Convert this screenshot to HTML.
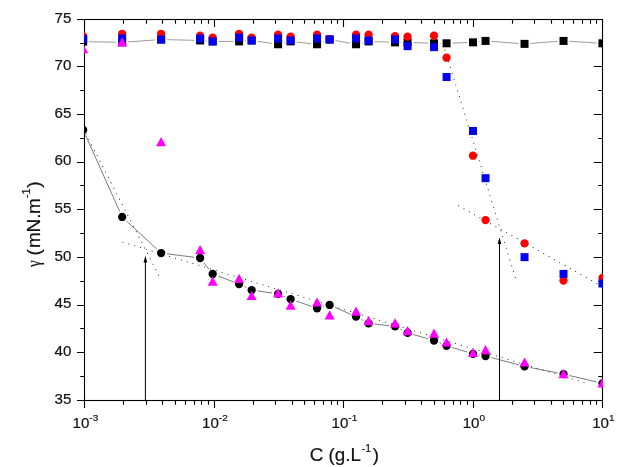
<!DOCTYPE html>
<html><head><meta charset="utf-8"><title>Surface tension plot</title>
<style>html,body{margin:0;padding:0;background:#fff}svg{display:block}</style>
</head><body>
<svg width="618" height="467" viewBox="0 0 618 467">
<rect width="618" height="467" fill="#fff"/>
<defs><clipPath id="pc"><rect x="84.0" y="19.0" width="519.0" height="382.0"/></clipPath></defs>
<rect x="84.5" y="19.5" width="518.0" height="381.0" fill="none" stroke="#000" stroke-width="1.1"/>
<path d="M84.5 400.50h-7.5M602.5 400.50h-8.8M84.5 352.50h-7.5M602.5 352.50h-8.8M84.5 305.50h-7.5M602.5 305.50h-8.8M84.5 257.50h-7.5M602.5 257.50h-8.8M84.5 209.50h-7.5M602.5 209.50h-8.8M84.5 162.50h-7.5M602.5 162.50h-8.8M84.5 114.50h-7.5M602.5 114.50h-8.8M84.5 66.50h-7.5M602.5 66.50h-8.8M84.5 19.50h-7.5M602.5 19.50h-8.8M84.5 376.50h-4.3M602.5 376.50h-4.3M84.5 328.50h-4.3M602.5 328.50h-4.3M84.5 281.50h-4.3M602.5 281.50h-4.3M84.5 233.50h-4.3M602.5 233.50h-4.3M84.5 185.50h-4.3M602.5 185.50h-4.3M84.5 138.50h-4.3M602.5 138.50h-4.3M84.5 90.50h-4.3M602.5 90.50h-4.3M84.5 43.50h-4.3M602.5 43.50h-4.3M84.50 400.5v7.5M84.50 19.5v7.5M123.50 400.5v4.3M123.50 19.5v4.3M146.50 400.5v4.3M146.50 19.5v4.3M162.50 400.5v4.3M162.50 19.5v4.3M175.50 400.5v4.3M175.50 19.5v4.3M185.50 400.5v4.3M185.50 19.5v4.3M194.50 400.5v4.3M194.50 19.5v4.3M201.50 400.5v4.3M201.50 19.5v4.3M208.50 400.5v4.3M208.50 19.5v4.3M214.50 400.5v7.5M214.50 19.5v7.5M253.50 400.5v4.3M253.50 19.5v4.3M275.50 400.5v4.3M275.50 19.5v4.3M292.50 400.5v4.3M292.50 19.5v4.3M304.50 400.5v4.3M304.50 19.5v4.3M314.50 400.5v4.3M314.50 19.5v4.3M323.50 400.5v4.3M323.50 19.5v4.3M331.50 400.5v4.3M331.50 19.5v4.3M337.50 400.5v4.3M337.50 19.5v4.3M343.50 400.5v7.5M343.50 19.5v7.5M382.50 400.5v4.3M382.50 19.5v4.3M405.50 400.5v4.3M405.50 19.5v4.3M421.50 400.5v4.3M421.50 19.5v4.3M434.50 400.5v4.3M434.50 19.5v4.3M444.50 400.5v4.3M444.50 19.5v4.3M453.50 400.5v4.3M453.50 19.5v4.3M460.50 400.5v4.3M460.50 19.5v4.3M467.50 400.5v4.3M467.50 19.5v4.3M473.50 400.5v7.5M473.50 19.5v7.5M512.50 400.5v4.3M512.50 19.5v4.3M534.50 400.5v4.3M534.50 19.5v4.3M551.50 400.5v4.3M551.50 19.5v4.3M563.50 400.5v4.3M563.50 19.5v4.3M573.50 400.5v4.3M573.50 19.5v4.3M582.50 400.5v4.3M582.50 19.5v4.3M590.50 400.5v4.3M590.50 19.5v4.3M596.50 400.5v4.3M596.50 19.5v4.3M602.50 400.5v7.5M602.50 19.5v7.5" fill="none" stroke="#000" stroke-width="1.1"/>
<g clip-path="url(#pc)">
<line x1="86" y1="134" x2="159" y2="276" stroke="#222" stroke-width="1.05" stroke-linecap="round" stroke-dasharray="0.1 6" fill="none"/>
<line x1="122.9" y1="242.2" x2="584.4" y2="382.7" stroke="#222" stroke-width="1.05" stroke-linecap="round" stroke-dasharray="0.1 6" fill="none"/>
<line x1="445" y1="50" x2="515.5" y2="278" stroke="#222" stroke-width="1.05" stroke-linecap="round" stroke-dasharray="0.1 6" fill="none"/>
<line x1="458.6" y1="205.8" x2="600" y2="285.2" stroke="#222" stroke-width="1.05" stroke-linecap="round" stroke-dasharray="0.1 6" fill="none"/>
<path d="M89.17 41.72L116.15 42.24M128.13 41.92L155.15 39.94M167.13 39.65L194.12 40.31M205.89 40.93h1M218.67 41.41L233.10 41.41M244.87 40.93h1M257.59 41.31L272.14 43.41M283.86 42.84h1M296.60 42.05L311.10 43.62M322.84 41.88h1M335.52 40.57L350.14 43.20M361.82 42.84h1M374.60 41.62L389.04 42.14M400.81 42.36h1M413.58 42.58L428.02 43.10M439.79 43.31h1M452.56 43.10L467.00 42.58M478.77 41.65h1M491.53 41.38L518.55 43.43M530.52 43.43L557.53 41.38M569.51 41.30L596.51 42.95" fill="none" stroke="#666" stroke-width="0.65"/>
<rect x="79.17" y="37.60" width="8.0" height="8.0" fill="#000"/>
<rect x="118.15" y="38.36" width="8.0" height="8.0" fill="#000"/>
<rect x="157.13" y="35.50" width="8.0" height="8.0" fill="#000"/>
<rect x="196.12" y="36.46" width="8.0" height="8.0" fill="#000"/>
<rect x="208.67" y="37.41" width="8.0" height="8.0" fill="#000"/>
<rect x="235.10" y="37.41" width="8.0" height="8.0" fill="#000"/>
<rect x="247.65" y="36.46" width="8.0" height="8.0" fill="#000"/>
<rect x="274.08" y="40.26" width="8.0" height="8.0" fill="#000"/>
<rect x="286.63" y="37.41" width="8.0" height="8.0" fill="#000"/>
<rect x="313.07" y="40.26" width="8.0" height="8.0" fill="#000"/>
<rect x="325.62" y="35.50" width="8.0" height="8.0" fill="#000"/>
<rect x="352.05" y="40.26" width="8.0" height="8.0" fill="#000"/>
<rect x="364.60" y="37.41" width="8.0" height="8.0" fill="#000"/>
<rect x="391.03" y="38.36" width="8.0" height="8.0" fill="#000"/>
<rect x="403.58" y="38.36" width="8.0" height="8.0" fill="#000"/>
<rect x="430.02" y="39.31" width="8.0" height="8.0" fill="#000"/>
<rect x="442.57" y="39.31" width="8.0" height="8.0" fill="#000"/>
<rect x="469.00" y="38.36" width="8.0" height="8.0" fill="#000"/>
<rect x="481.55" y="36.93" width="8.0" height="8.0" fill="#000"/>
<rect x="520.53" y="39.88" width="8.0" height="8.0" fill="#000"/>
<rect x="559.52" y="36.93" width="8.0" height="8.0" fill="#000"/>
<rect x="598.50" y="39.31" width="8.0" height="8.0" fill="#000"/>
<circle cx="83.17" cy="36.17" r="4.15" fill="#f00"/>
<circle cx="122.15" cy="33.79" r="4.15" fill="#f00"/>
<circle cx="161.13" cy="33.79" r="4.15" fill="#f00"/>
<circle cx="200.12" cy="35.69" r="4.15" fill="#f00"/>
<circle cx="212.67" cy="37.60" r="4.15" fill="#f00"/>
<circle cx="239.10" cy="33.79" r="4.15" fill="#f00"/>
<circle cx="251.65" cy="37.60" r="4.15" fill="#f00"/>
<circle cx="278.08" cy="34.74" r="4.15" fill="#f00"/>
<circle cx="290.63" cy="36.64" r="4.15" fill="#f00"/>
<circle cx="317.07" cy="34.74" r="4.15" fill="#f00"/>
<circle cx="329.62" cy="39.22" r="4.15" fill="#f00"/>
<circle cx="356.05" cy="34.74" r="4.15" fill="#f00"/>
<circle cx="368.60" cy="34.74" r="4.15" fill="#f00"/>
<circle cx="395.03" cy="36.17" r="4.15" fill="#f00"/>
<circle cx="407.58" cy="36.64" r="4.15" fill="#f00"/>
<circle cx="434.02" cy="35.69" r="4.15" fill="#f00"/>
<circle cx="446.57" cy="57.70" r="4.15" fill="#f00"/>
<circle cx="473.00" cy="155.71" r="4.15" fill="#f00"/>
<circle cx="485.55" cy="220.19" r="4.15" fill="#f00"/>
<circle cx="524.53" cy="243.34" r="4.15" fill="#f00"/>
<circle cx="563.52" cy="280.58" r="4.15" fill="#f00"/>
<circle cx="602.50" cy="278.01" r="4.15" fill="#f00"/>
<rect x="79.17" y="34.93" width="8.0" height="8.0" fill="#0303ee"/>
<rect x="118.15" y="34.55" width="8.0" height="8.0" fill="#0303ee"/>
<rect x="157.13" y="35.50" width="8.0" height="8.0" fill="#0303ee"/>
<rect x="196.12" y="34.55" width="8.0" height="8.0" fill="#0303ee"/>
<rect x="208.67" y="37.41" width="8.0" height="8.0" fill="#0303ee"/>
<rect x="235.10" y="33.60" width="8.0" height="8.0" fill="#0303ee"/>
<rect x="247.65" y="36.46" width="8.0" height="8.0" fill="#0303ee"/>
<rect x="274.08" y="34.55" width="8.0" height="8.0" fill="#0303ee"/>
<rect x="286.63" y="36.46" width="8.0" height="8.0" fill="#0303ee"/>
<rect x="313.07" y="34.55" width="8.0" height="8.0" fill="#0303ee"/>
<rect x="325.62" y="35.50" width="8.0" height="8.0" fill="#0303ee"/>
<rect x="352.05" y="34.55" width="8.0" height="8.0" fill="#0303ee"/>
<rect x="364.60" y="36.46" width="8.0" height="8.0" fill="#0303ee"/>
<rect x="391.03" y="35.50" width="8.0" height="8.0" fill="#0303ee"/>
<rect x="403.58" y="42.17" width="8.0" height="8.0" fill="#0303ee"/>
<rect x="430.02" y="43.12" width="8.0" height="8.0" fill="#0303ee"/>
<rect x="442.57" y="73.03" width="8.0" height="8.0" fill="#0303ee"/>
<rect x="469.00" y="126.94" width="8.0" height="8.0" fill="#0303ee"/>
<rect x="481.55" y="174.19" width="8.0" height="8.0" fill="#0303ee"/>
<rect x="520.53" y="253.15" width="8.0" height="8.0" fill="#0303ee"/>
<rect x="559.52" y="269.91" width="8.0" height="8.0" fill="#0303ee"/>
<rect x="598.50" y="279.53" width="8.0" height="8.0" fill="#0303ee"/>
<path d="M85.62 135.37L119.70 211.48M126.55 221.03L156.73 248.98M167.09 253.81L194.16 257.25M203.82 262.73L208.96 269.29M218.28 276.13L233.49 281.89M244.50 286.63L246.25 287.48M257.59 290.94L272.14 292.99M283.61 296.17L285.11 296.81M296.30 301.12L311.40 306.34M322.84 306.63h1M335.10 307.40L350.56 314.25M361.35 319.50L363.30 320.53M374.56 324.03L389.07 325.71M400.37 329.15L402.25 330.12M413.35 334.53L428.25 338.83M439.55 342.80L441.03 343.42M452.30 347.49L467.26 352.07M478.77 354.92h1M491.35 357.56L518.74 364.86M530.42 367.57L557.63 372.95M569.35 375.50L596.66 381.97" fill="none" stroke="#333" stroke-width="0.65"/>
<circle cx="83.17" cy="129.89" r="4.15" fill="#000"/>
<circle cx="122.15" cy="216.95" r="4.15" fill="#000"/>
<circle cx="161.13" cy="253.05" r="4.15" fill="#000"/>
<circle cx="200.12" cy="258.01" r="4.15" fill="#000"/>
<circle cx="212.67" cy="274.01" r="4.15" fill="#000"/>
<circle cx="239.10" cy="284.01" r="4.15" fill="#000"/>
<circle cx="251.65" cy="290.11" r="4.15" fill="#000"/>
<circle cx="278.08" cy="293.82" r="4.15" fill="#000"/>
<circle cx="290.63" cy="299.15" r="4.15" fill="#000"/>
<circle cx="317.07" cy="308.30" r="4.15" fill="#000"/>
<circle cx="329.62" cy="304.96" r="4.15" fill="#000"/>
<circle cx="356.05" cy="316.68" r="4.15" fill="#000"/>
<circle cx="368.60" cy="323.35" r="4.15" fill="#000"/>
<circle cx="395.03" cy="326.40" r="4.15" fill="#000"/>
<circle cx="407.58" cy="332.87" r="4.15" fill="#000"/>
<circle cx="434.02" cy="340.49" r="4.15" fill="#000"/>
<circle cx="446.57" cy="345.73" r="4.15" fill="#000"/>
<circle cx="473.00" cy="353.83" r="4.15" fill="#000"/>
<circle cx="485.55" cy="356.02" r="4.15" fill="#000"/>
<circle cx="524.53" cy="366.40" r="4.15" fill="#000"/>
<circle cx="563.52" cy="374.12" r="4.15" fill="#000"/>
<circle cx="602.50" cy="383.36" r="4.15" fill="#000"/>
<polygon points="83.17,44.03 88.17,53.23 78.17,53.23" fill="#f0f"/>
<polygon points="122.15,37.36 127.15,46.56 117.15,46.56" fill="#f0f"/>
<polygon points="161.13,137.09 166.13,146.29 156.13,146.29" fill="#f0f"/>
<polygon points="200.12,245.01 205.12,254.21 195.12,254.21" fill="#f0f"/>
<polygon points="212.67,276.44 217.67,285.64 207.67,285.64" fill="#f0f"/>
<polygon points="239.10,273.87 244.10,283.07 234.10,283.07" fill="#f0f"/>
<polygon points="251.65,290.92 256.65,300.12 246.65,300.12" fill="#f0f"/>
<polygon points="278.08,288.34 283.08,297.54 273.08,297.54" fill="#f0f"/>
<polygon points="290.63,300.54 295.63,309.74 285.63,309.74" fill="#f0f"/>
<polygon points="317.07,297.39 322.07,306.59 312.07,306.59" fill="#f0f"/>
<polygon points="329.62,310.35 334.62,319.55 324.62,319.55" fill="#f0f"/>
<polygon points="356.05,306.44 361.05,315.64 351.05,315.64" fill="#f0f"/>
<polygon points="368.60,315.97 373.60,325.17 363.60,325.17" fill="#f0f"/>
<polygon points="395.03,318.35 400.03,327.55 390.03,327.55" fill="#f0f"/>
<polygon points="407.58,325.97 412.58,335.17 402.58,335.17" fill="#f0f"/>
<polygon points="434.02,328.44 439.02,337.64 429.02,337.64" fill="#f0f"/>
<polygon points="446.57,337.40 451.57,346.60 441.57,346.60" fill="#f0f"/>
<polygon points="473.00,347.88 478.00,357.07 468.00,357.07" fill="#f0f"/>
<polygon points="485.55,345.02 490.55,354.22 480.55,354.22" fill="#f0f"/>
<polygon points="524.53,357.40 529.53,366.60 519.53,366.60" fill="#f0f"/>
<polygon points="563.52,369.12 568.52,378.32 558.52,378.32" fill="#f0f"/>
<polygon points="602.50,378.36 607.50,387.56 597.50,387.56" fill="#f0f"/>
<line x1="145.4" y1="400.5" x2="145.4" y2="260.0" stroke="#000" stroke-width="1"/>
<polygon points="145.4,255.7 147.25,262.6 143.55,262.6" fill="#000"/>
<line x1="499.5" y1="400.5" x2="499.5" y2="241.5" stroke="#000" stroke-width="1"/>
<polygon points="499.5,237.2 501.35,244.1 497.65,244.1" fill="#000"/>
</g>
<g font-family="Liberation Sans, Arial, sans-serif" font-size="14" fill="#111" stroke="#111" stroke-width="0.2" opacity="0.99">
<text transform="translate(71.3 403.50) scale(1.08 1)" text-anchor="end">35</text>
<text transform="translate(71.3 355.88) scale(1.08 1)" text-anchor="end">40</text>
<text transform="translate(71.3 308.25) scale(1.08 1)" text-anchor="end">45</text>
<text transform="translate(71.3 260.62) scale(1.08 1)" text-anchor="end">50</text>
<text transform="translate(71.3 213.00) scale(1.08 1)" text-anchor="end">55</text>
<text transform="translate(71.3 165.38) scale(1.08 1)" text-anchor="end">60</text>
<text transform="translate(71.3 117.75) scale(1.08 1)" text-anchor="end">65</text>
<text transform="translate(71.3 70.12) scale(1.08 1)" text-anchor="end">70</text>
<text transform="translate(71.3 22.50) scale(1.08 1)" text-anchor="end">75</text>
<text transform="translate(85.40 428.2) scale(1.08 1)" text-anchor="middle">10<tspan font-size="9.3" dy="-7.3">-3</tspan></text>
<text transform="translate(214.90 428.2) scale(1.08 1)" text-anchor="middle">10<tspan font-size="9.3" dy="-7.3">-2</tspan></text>
<text transform="translate(344.40 428.2) scale(1.08 1)" text-anchor="middle">10<tspan font-size="9.3" dy="-7.3">-1</tspan></text>
<text transform="translate(473.90 428.2) scale(1.08 1)" text-anchor="middle">10<tspan font-size="9.3" dy="-7.3">0</tspan></text>
<text transform="translate(603.40 428.2) scale(1.08 1)" text-anchor="middle">10<tspan font-size="9.3" dy="-7.3">1</tspan></text>
</g>
<g font-family="Liberation Sans, Arial, sans-serif" font-size="18" fill="#111" stroke="#111" stroke-width="0.2" opacity="0.99">
<text transform="translate(309.8 461.3) scale(1.045 1)">C (g.L<tspan font-size="10.1" dy="-9.1" dx="0.8">-1</tspan><tspan dy="9.1" dx="1.4">)</tspan></text>
<text transform="translate(40.3 267) rotate(-90) scale(0.8 0.97)" font-family="Liberation Serif, serif" font-size="19">γ</text>
<text transform="translate(40.3 255.5) rotate(-90) scale(1.06 1)">(<tspan dx="1.1">m</tspan><tspan dx="-0.3">N.</tspan><tspan dx="-0.5">m</tspan><tspan font-size="10.1" dy="-10.5">-1</tspan><tspan dy="10.5" dx="0.65">)</tspan></text>
</g>
</svg>
</body></html>
